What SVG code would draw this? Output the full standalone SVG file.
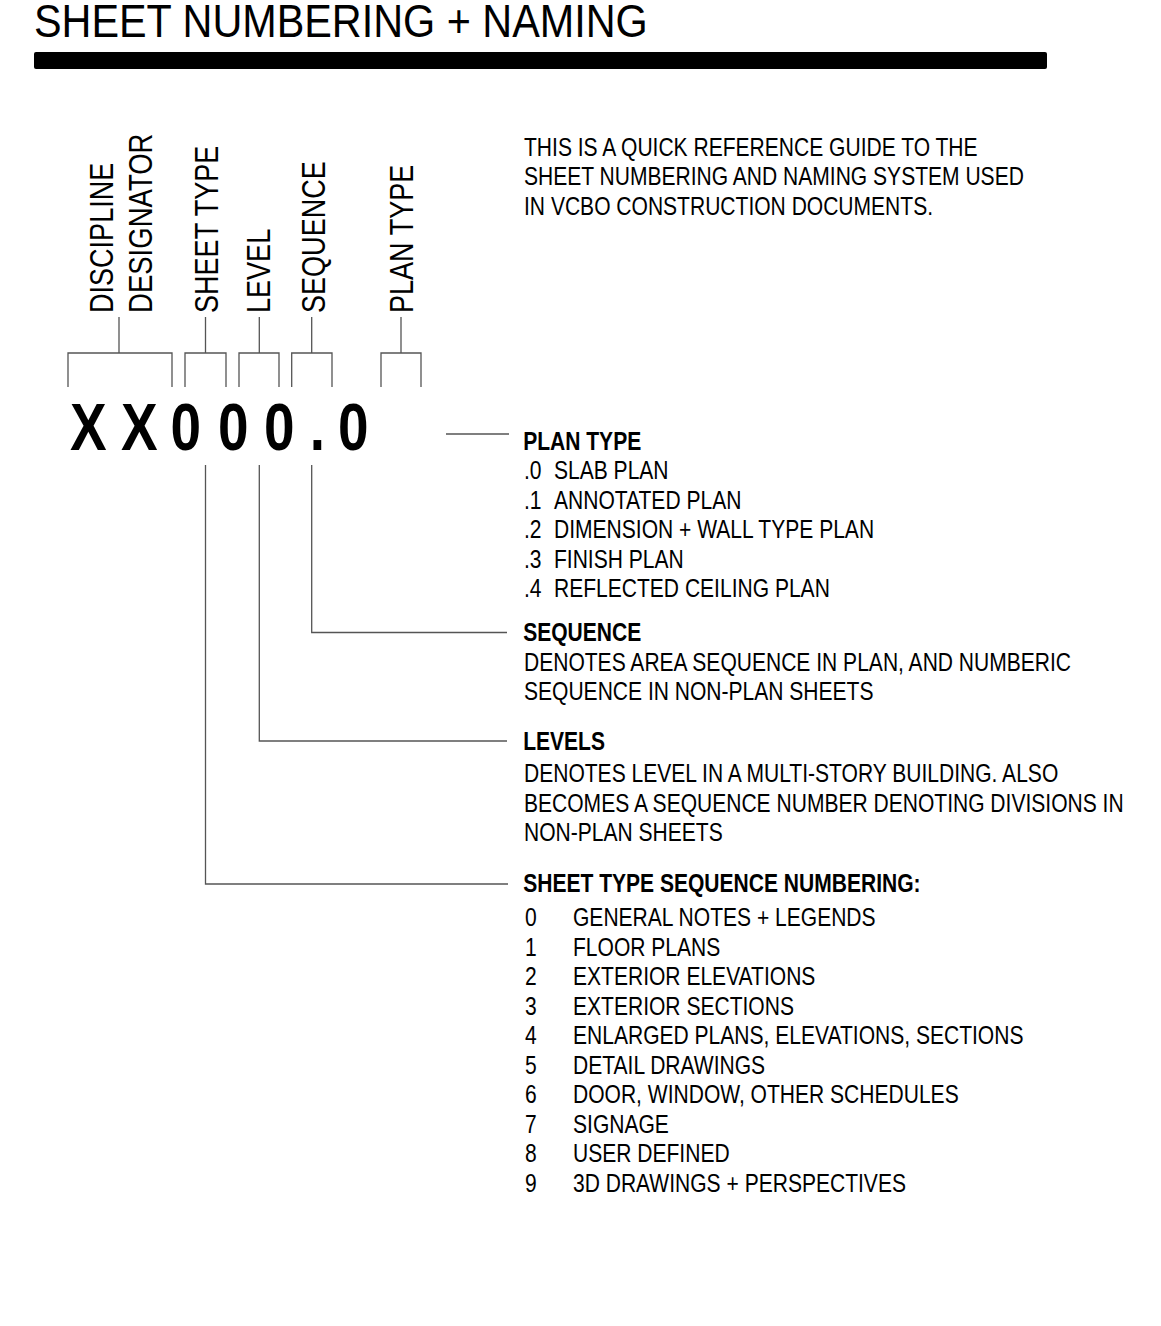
<svg xmlns="http://www.w3.org/2000/svg" width="1161" height="1326" viewBox="0 0 1161 1326">
<style>
text{font-family:"Liberation Sans",Arial,sans-serif;fill:#000}
.title{font-size:47px}
.lab{font-size:33px}
.code{font-size:67px;font-weight:bold;text-anchor:middle}
.t{font-size:25px}
.b{font-size:25px;font-weight:bold}
.ln{fill:none;stroke:#555;stroke-width:1.3}
</style>
<rect width="1161" height="1326" fill="#fff"/>
<g id="header">
<text class="title" transform="translate(34,36.5) scale(0.88,1)">SHEET NUMBERING + NAMING</text>
<rect x="34" y="52" width="1013" height="17" rx="2" fill="#000"/>
</g>
<g id="labels">
<text class="lab" transform="translate(113,313) rotate(-90) scale(0.82,1)">DISCIPLINE</text>
<text class="lab" transform="translate(152,313) rotate(-90) scale(0.835,1)">DESIGNATOR</text>
<text class="lab" transform="translate(218,313) rotate(-90) scale(0.82,1)">SHEET TYPE</text>
<text class="lab" transform="translate(270,313) rotate(-90) scale(0.82,1)">LEVEL</text>
<text class="lab" transform="translate(325,313) rotate(-90) scale(0.82,1)">SEQUENCE</text>
<text class="lab" transform="translate(413,313) rotate(-90) scale(0.82,1)">PLAN TYPE</text>
</g>
<g id="brackets" class="ln">
<path d="M68,387V353H172V387M119,353V317"/>
<path d="M185,387V353H226V387M205.5,353V317"/>
<path d="M239,387V353H279V387M259.3,353V317"/>
<path d="M291.7,387V353H332V387M311.7,353V317"/>
<path d="M381,387V353H421V387M401,353V317"/>
</g>
<g id="code">
<text class="code" transform="translate(88.3,450) scale(0.82,1)">X</text>
<text class="code" transform="translate(139.2,450) scale(0.82,1)">X</text>
<text class="code" transform="translate(185.8,450) scale(0.82,1)">0</text>
<text class="code" transform="translate(233.3,450) scale(0.82,1)">0</text>
<text class="code" transform="translate(279.2,450) scale(0.82,1)">0</text>
<text class="code" transform="translate(317.5,450) scale(0.82,1)">.</text>
<text class="code" transform="translate(353.3,450) scale(0.82,1)">0</text>
</g>
<g id="connectors" class="ln">
<path d="M446,434H509"/>
<path d="M311.7,465V632.5H507"/>
<path d="M259.3,465V741H507"/>
<path d="M205.5,465V884H508"/>
</g>
<g id="intro" transform="translate(524,0) scale(0.842,1)">
<text class="t" x="0" y="156">THIS IS A QUICK REFERENCE GUIDE TO THE</text>
<text class="t" x="0" y="185.5">SHEET NUMBERING AND NAMING SYSTEM USED</text>
<text class="t" x="0" y="215">IN VCBO CONSTRUCTION DOCUMENTS.</text>
</g>
<g id="plan-type" transform="translate(524,0) scale(0.842,1)">
<text class="b" x="-1" y="450">PLAN TYPE</text>
<text class="t" x="0" y="479.5">.0</text><text class="t" x="35.6" y="479.5">SLAB PLAN</text>
<text class="t" x="0" y="509">.1</text><text class="t" x="35.6" y="509">ANNOTATED PLAN</text>
<text class="t" x="0" y="538.5">.2</text><text class="t" x="35.6" y="538.5">DIMENSION + WALL TYPE PLAN</text>
<text class="t" x="0" y="568">.3</text><text class="t" x="35.6" y="568">FINISH PLAN</text>
<text class="t" x="0" y="597.5">.4</text><text class="t" x="35.6" y="597.5">REFLECTED CEILING PLAN</text>
</g>
<g id="sequence" transform="translate(524,0) scale(0.842,1)">
<text class="b" x="-1" y="641.5">SEQUENCE</text>
<text class="t" x="0" y="671.5">DENOTES AREA SEQUENCE IN PLAN, AND NUMBERIC</text>
<text class="t" x="0" y="700.5">SEQUENCE IN NON-PLAN SHEETS</text>
</g>
<g id="levels" transform="translate(524,0) scale(0.842,1)">
<text class="b" x="-1" y="750">LEVELS</text>
<text class="t" x="0" y="782.5">DENOTES LEVEL IN A MULTI-STORY BUILDING. ALSO</text>
<text class="t" x="0" y="812">BECOMES A SEQUENCE NUMBER DENOTING DIVISIONS IN</text>
<text class="t" x="0" y="841.5">NON-PLAN SHEETS</text>
</g>
<g id="sheet-type" transform="translate(524,0) scale(0.842,1)">
<text class="b" x="-1" y="892">SHEET TYPE SEQUENCE NUMBERING:</text>
<text class="t" x="1.2" y="926.5">0</text><text class="t" x="58.2" y="926.5">GENERAL NOTES + LEGENDS</text>
<text class="t" x="1.2" y="956">1</text><text class="t" x="58.2" y="956">FLOOR PLANS</text>
<text class="t" x="1.2" y="985.5">2</text><text class="t" x="58.2" y="985.5">EXTERIOR ELEVATIONS</text>
<text class="t" x="1.2" y="1015">3</text><text class="t" x="58.2" y="1015">EXTERIOR SECTIONS</text>
<text class="t" x="1.2" y="1044.5">4</text><text class="t" x="58.2" y="1044.5">ENLARGED PLANS, ELEVATIONS, SECTIONS</text>
<text class="t" x="1.2" y="1074">5</text><text class="t" x="58.2" y="1074">DETAIL DRAWINGS</text>
<text class="t" x="1.2" y="1103.5">6</text><text class="t" x="58.2" y="1103.5">DOOR, WINDOW, OTHER SCHEDULES</text>
<text class="t" x="1.2" y="1133">7</text><text class="t" x="58.2" y="1133">SIGNAGE</text>
<text class="t" x="1.2" y="1162.5">8</text><text class="t" x="58.2" y="1162.5">USER DEFINED</text>
<text class="t" x="1.2" y="1192">9</text><text class="t" x="58.2" y="1192">3D DRAWINGS + PERSPECTIVES</text>
</g>
</svg>
